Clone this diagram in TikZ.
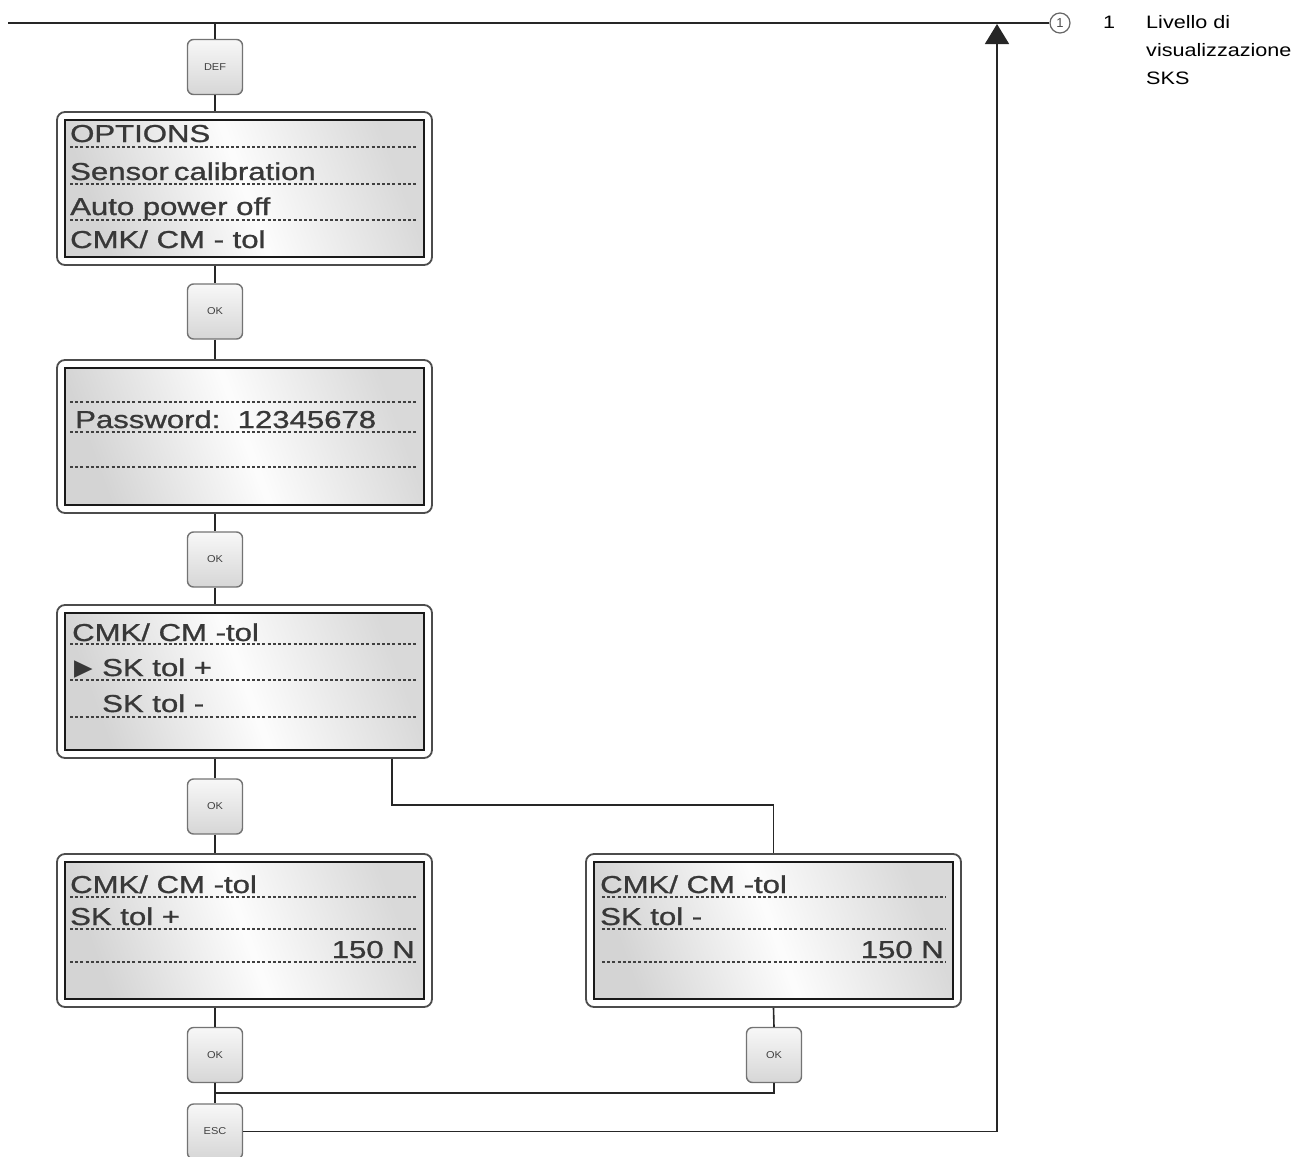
\documentclass[tikz,border=0pt]{standalone}
\usepackage{fontspec}
\usepackage{graphicx}
\setmainfont{Liberation Sans}
\newfontfamily\lcdfont[FakeBold=0.9]{Liberation Sans}
\newfontfamily\symfont{DejaVu Sans}
\usetikzlibrary{arrows.meta}
\newcommand{\lcdw}[1]{\scalebox{1.27}[1]{#1}}
\newcommand{\legw}[1]{\scalebox{1.2}[1]{#1}}
\begin{document}
\begin{tikzpicture}[x=1pt,y=-1pt,
  conn/.style={line width=1.6pt, draw=black!85},
  btn/.style={draw=black!55, line width=1.4pt, rounded corners=6pt,
    minimum width=55pt, minimum height=55pt, inner sep=0pt,
    top color=black!3, bottom color=black!16,
    font=\fontsize{10}{10}\selectfont, text=black!75},
  outerbox/.style={draw=black!70, line width=1.8pt, rounded corners=8pt,
    fill=white, minimum width=375pt, minimum height=153pt, inner sep=0pt},
  innerbox/.style={draw=black!90, line width=2.4pt, minimum width=359pt,
    minimum height=137pt, inner sep=0pt,
    left color=black!17, right color=black!15, middle color=black!1,
    shading angle=110},
  dots/.style={draw=black!75, line width=1.4pt, dash pattern=on 3pt off 2.2pt},
  lcd/.style={anchor=base west, inner sep=0pt,
    font=\lcdfont\fontsize{24.5}{24.5}\selectfont, text=black!78},
  lcdr/.style={lcd, anchor=base east},
  callout/.style={circle, draw=black!60, line width=1.2pt, minimum size=20pt,
    inner sep=0pt, fill=white, font=\fontsize{13}{13}\selectfont, text=black!70},
  legtxt/.style={anchor=base west, inner sep=0pt,
    font=\fontsize{18}{18}\selectfont, text=black}
]
\useasboundingbox (0,0) rectangle (1307,1157);

% ---- top line and callout ----
\coordinate (tl) at (8,23);
\node[callout] (c1) at (1060,23) {1};
\draw[conn] (tl) -- (c1);

% ---- legend ----
\node[legtxt] (lg1) at (1103,28) {\legw{1}};
\node[legtxt] (lg2) at (1146,28) {\legw{Livello di}};
\node[legtxt] (lg3) at (1146,56) {\legw{visualizzazione}};
\node[legtxt] (lg4) at (1146,84) {\legw{SKS}};

% ---- buttons ----
\node[btn] (def) at (215,67) {\scalebox{1.1}[1]{DEF}};
\node[btn] (ok1) at (215,311.5) {\scalebox{1.1}[1]{OK}};
\node[btn] (ok2) at (215,559.5) {\scalebox{1.1}[1]{OK}};
\node[btn] (ok3) at (215,806.5) {\scalebox{1.1}[1]{OK}};
\node[btn] (ok4) at (215,1055) {\scalebox{1.1}[1]{OK}};
\node[btn] (esc) at (215,1131.5) {\scalebox{1.1}[1]{ESC}};
\node[btn] (rok) at (774,1055) {\scalebox{1.1}[1]{OK}};

% ---- display boxes ----
\node[outerbox] (b1o) at (244.5,188.5) {};
\node[innerbox] (b1) at (244.5,188.5) {};
\node[outerbox] (b2o) at (244.5,436.5) {};
\node[innerbox] (b2) at (244.5,436.5) {};
\node[outerbox] (b3o) at (244.5,681.5) {};
\node[innerbox] (b3) at (244.5,681.5) {};
\node[outerbox] (b4o) at (244.5,930.5) {};
\node[innerbox] (b4) at (244.5,930.5) {};
\node[outerbox] (b5o) at (773.5,930.5) {};
\node[innerbox] (b5) at (773.5,930.5) {};

% box 1
\draw[dots] (70,147) -- (417,147);
\draw[dots] (70,184) -- (417,184);
\draw[dots] (70,220) -- (417,220);
\node[lcd] (t11) at (70,142) {\lcdw{OPTIONS}};
\node[lcd] (t12) at (70,180) {\lcdw{Sensor\,calibration}};
\node[lcd] (t13) at (70,215) {\lcdw{Auto power off}};
\node[lcd] (t14) at (70,248) {\lcdw{CMK/ CM - tol}};

% box 2
\draw[dots] (70,402) -- (417,402);
\draw[dots] (70,432) -- (417,432);
\draw[dots] (70,467) -- (417,467);
\node[lcd] (t21) at (75,428) {\lcdw{Password:\ \ 12345678}};

% box 3
\draw[dots] (70,644) -- (417,644);
\draw[dots] (70,680) -- (417,680);
\draw[dots] (70,717) -- (417,717);
\node[lcd] (t31) at (72,641) {\lcdw{CMK/ CM -tol}};
\node[lcd] (t32) at (74,675) {{\symfont\fontsize{23}{23}\selectfont\scalebox{1.05}[1]{▶}}};
\node[lcd] (t33) at (102,676) {\lcdw{SK tol +}};
\node[lcd] (t34) at (102,712) {\lcdw{SK tol -}};

% box 4
\draw[dots] (70,897) -- (417,897);
\draw[dots] (70,929) -- (417,929);
\draw[dots] (70,962) -- (417,962);
\node[lcd] (t41) at (70,893) {\lcdw{CMK/ CM -tol}};
\node[lcd] (t42) at (70,925) {\lcdw{SK tol +}};
\node[lcdr] (t43) at (415,958) {\lcdw{150 N}};

% box 5
\draw[dots] (602,897) -- (946,897);
\draw[dots] (602,929) -- (946,929);
\draw[dots] (602,962) -- (946,962);
\node[lcd] (t51) at (600,893) {\lcdw{CMK/ CM -tol}};
\node[lcd] (t52) at (600,925) {\lcdw{SK tol -}};
\node[lcdr] (t53) at (944,958) {\lcdw{150 N}};

% ---- connectors ----
\coordinate (tdef) at (215,23);
\draw[conn] (tdef) -- (def.north);
\draw[conn] (def.south) -- (def.south |- b1o.north);
\draw[conn] (ok1.north |- b1o.south) -- (ok1.north);
\draw[conn] (ok1.south) -- (ok1.south |- b2o.north);
\draw[conn] (ok2.north |- b2o.south) -- (ok2.north);
\draw[conn] (ok2.south) -- (ok2.south |- b3o.north);
\draw[conn] (ok3.north |- b3o.south) -- (ok3.north);
\draw[conn] (ok3.south) -- (ok3.south |- b4o.north);
\draw[conn] (ok4.north |- b4o.south) -- (ok4.north);
\draw[conn] (ok4.south) -- (esc.north);
\draw[conn] (rok.north) -- (b5o.south);
\coordinate (brx) at (392,805);
\draw[conn] (b3o.south -| brx) -- (brx) -| (b5o.north);
\coordinate (jn) at (215,1093);
\draw[conn] (rok.south) |- (jn);
\coordinate (ar) at (997,24);
\draw[conn, -{Triangle[length=20pt,width=24pt]}] (esc.east) -| (ar);
\end{tikzpicture}
\end{document}
